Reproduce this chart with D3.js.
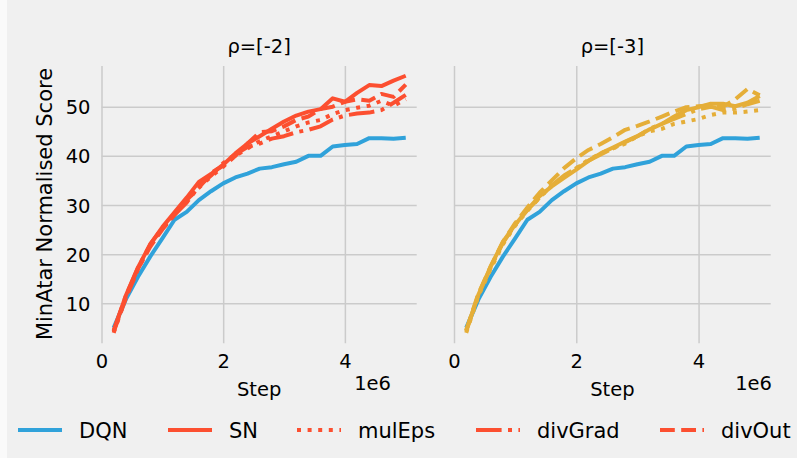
<!DOCTYPE html>
<html><head><meta charset="utf-8">
<script src="https://cdn.jsdelivr.net/npm/d3@7/dist/d3.min.js"></script>
<style>
html,body{margin:0;padding:0;background:#f0f0f0;}
svg{display:block;font-family:"DejaVu Sans",sans-serif;}
</style></head><body>
<svg id="chart" width="797" height="458"></svg>
<script>
// ---------- data ----------
const steps = [0.2e6,0.4e6,0.6e6,0.8e6,1.0e6,1.2e6,1.4e6,1.6e6,1.8e6,2.0e6,2.2e6,2.4e6,2.6e6,2.8e6,3.0e6,3.2e6,3.4e6,3.6e6,3.8e6,4.0e6,4.2e6,4.4e6,4.6e6,4.8e6,5.0e6];
const seriesNames = ["DQN","SN","mulEps","divGrad","divOut"];
const panelTitles = ["ρ=[-2]","ρ=[-3]"];
const xTicks = [0, 2e6, 4e6];
const xTickLabels = ["0","2","4"];
const yTicks = [10,20,30,40,50];
const yTickLabels = ["10","20","30","40","50"];

const dqn = [5.0,10.8,15.4,19.5,23.2,27.0,28.6,31.0,32.8,34.4,35.6,36.4,37.4,37.7,38.3,38.8,40.0,40.0,41.9,42.2,42.4,43.6,43.6,43.5,43.7];

// rho = -2
const snA      = [4.3,11.6,17.3,22.0,25.5,28.5,31.5,34.7,36.3,38.2,40.5,42.5,44.0,45.5,47.0,48.2,49.0,49.5,51.7,51.0,52.8,54.4,54.2,55.3,56.3];
const mulEpsA  = [4.0,11.2,17.0,21.8,25.3,28.2,31.0,33.5,35.8,37.8,40.0,41.5,43.0,44.0,45.0,46.0,46.8,47.3,48.5,49.3,49.8,50.2,51.2,50.2,51.5];
const divGradA = [4.5,11.5,17.2,22.0,25.3,28.0,30.5,33.8,36.0,38.5,40.3,41.8,42.5,43.5,44.0,44.8,45.3,46.0,47.4,48.2,48.6,48.8,49.3,50.8,52.4];
const divOutA  = [4.2,11.0,17.0,21.5,25.0,28.0,31.0,33.5,36.5,38.0,40.0,42.5,44.8,45.0,46.0,47.3,48.0,49.5,50.0,51.0,51.5,51.2,52.6,52.0,54.5];

// rho = -3
const snB      = [4.3,11.8,17.5,22.5,26.0,29.0,31.8,33.8,35.5,37.2,39.0,40.5,41.7,42.9,44.0,45.4,46.5,48.0,49.3,49.9,50.6,50.6,50.1,50.8,52.2];
const mulEpsB  = [4.0,11.5,17.0,22.0,25.8,28.8,31.5,34.0,35.8,37.5,39.2,40.5,41.5,42.5,44.0,45.0,45.5,46.5,47.0,47.5,48.3,48.8,48.8,49.0,49.3];
const divGradB = [4.5,11.8,17.3,22.3,26.0,29.0,31.5,34.0,36.0,37.5,39.0,40.3,41.5,42.8,44.0,45.5,46.5,47.5,48.5,49.5,50.0,49.3,49.6,50.5,51.2];
const divOutB  = [4.5,12.0,17.5,22.5,26.3,29.5,32.5,35.0,37.5,39.5,41.2,42.4,43.8,45.3,46.1,47.0,48.0,49.0,49.9,50.1,50.3,50.0,51.5,53.6,52.3];

// ---------- style ----------
const BLUE = "#30a2da", RED = "#fc4f30", YEL = "#e5ae38";
const LW = 4;
const dashes = {DQN:null, SN:null, mulEps:[LW*1, LW*1.65], divGrad:[LW*6.4,LW*1.6,LW*1,LW*1.6], divOut:[LW*3.7,LW*1.6]};
const FONT = 19.5;

const panels = [
  {title: panelTitles[0], color: RED, data: {DQN:dqn, SN:snA, mulEps:mulEpsA, divGrad:divGradA, divOut:divOutA}, left:101.5, right:416.7, yLabels:true, offX:391},
  {title: panelTitles[1], color: YEL, data: {DQN:dqn, SN:snB, mulEps:mulEpsB, divGrad:divGradB, divOut:divOutB}, left:454, right:770.7, yLabels:false, offX:772}
];
const plotTop = 66, plotBottom = 343.3;

const svg = d3.select("#chart");
svg.append("rect").attr("width",797).attr("height",458).attr("fill","#f0f0f0");
svg.append("rect").attr("width",7).attr("height",458).attr("fill","#fafafa");

const y = d3.scaleLinear().domain([1.86, 58.28]).range([plotBottom, plotTop]);

panels.forEach(p => {
  const x = d3.scaleLinear().domain([0, 5.18e6]).range([p.left, p.right]);
  const g = svg.append("g");
  const gy = g.append("g").attr("transform",`translate(${p.left},0)`)
    .call(d3.axisLeft(y).tickValues(yTicks).tickSize(-(p.right-p.left)).tickPadding(11)
      .tickFormat((d,i)=> p.yLabels ? yTickLabels[i] : ""));
  const gx = g.append("g").attr("transform",`translate(0,${plotBottom})`)
    .call(d3.axisBottom(x).tickValues(xTicks).tickSize(-(plotBottom-plotTop)).tickPadding(11)
      .tickFormat((d,i)=> xTickLabels[i]));
  [gx, gy].forEach(a => {
    a.select(".domain").remove();
    a.selectAll(".tick line").attr("stroke","#cbcbcb").attr("stroke-width",1.5);
    a.selectAll(".tick text").attr("fill","#000").style("font-size",FONT+"px").style("font-family","DejaVu Sans");
  });
  gy.selectAll(".tick text").attr("dy","0.36em");
  gx.selectAll(".tick text").attr("dy","0.72em");

  const line = d3.line().x((d,i)=>x(steps[i])).y(d=>y(d));
  seriesNames.forEach(name => {
    g.append("path").datum(p.data[name])
      .attr("d", line)
      .attr("fill","none")
      .attr("stroke", name==="DQN" ? BLUE : p.color)
      .attr("stroke-width", LW)
      .attr("stroke-linejoin","round")
      .attr("stroke-dasharray", dashes[name] ? dashes[name].join(",") : null);
  });

  g.append("text").attr("x",(p.left+p.right)/2).attr("y",52.5).attr("text-anchor","middle")
    .style("font-size",FONT+"px").text(p.title);
  g.append("text").attr("x",(p.left+p.right)/2).attr("y",396).attr("text-anchor","middle")
    .style("font-size",FONT+"px").text("Step");
  g.append("text").attr("x",p.offX).attr("y",390).attr("text-anchor","end")
    .style("font-size",FONT+"px").text("1e6");
});

svg.append("text").attr("transform","translate(51.5,204) rotate(-90)").attr("text-anchor","middle")
  .style("font-size","21px").text("MinAtar Normalised Score");

const legendColors = {DQN:BLUE, SN:RED, mulEps:RED, divGrad:RED, divOut:RED};
const legendStarts = [18,168,297,476,660];
const LEGY = 430;
seriesNames.forEach((name,i) => {
  const x0 = legendStarts[i];
  svg.append("line").attr("x1",x0).attr("x2",x0+44).attr("y1",LEGY).attr("y2",LEGY)
    .attr("stroke",legendColors[name]).attr("stroke-width",LW)
    .attr("stroke-dasharray", dashes[name] ? dashes[name].join(",") : null);
  svg.append("text").attr("x",x0+61).attr("y",LEGY+7.5).style("font-size","21px").text(name);
});
</script>
</body></html>
